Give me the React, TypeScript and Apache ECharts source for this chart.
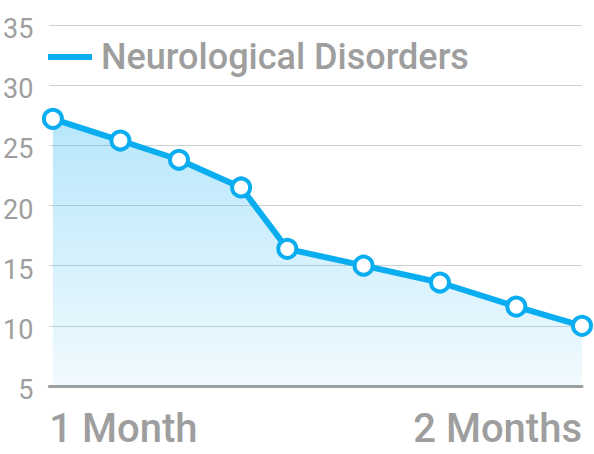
import React, { useEffect, useRef } from "react";
import * as echarts from "echarts";

const seriesName = "Neurological Disorders";
// x: days since start (1 Month = 30, 2 Months = 60)
const dayValues = [30.2, 34, 37.3, 40.8, 43.4, 47.7, 52, 56.3, 60];
const rateValues = [27.2, 25.4, 23.8, 21.5, 16.4, 15.0, 13.6, 11.6, 10.0];
const xTickLabels: Record<number, string> = { 30: "1 Month", 60: "2 Months" };
const xMin = 30;
const xMax = 60;
const yMin = 5;
const yMax = 35;
const yStep = 5;

const BLUE = "#0AADF0";
const GRAY = "#9e9e9e";

export default function App() {
  const ref = useRef<HTMLDivElement>(null);
  useEffect(() => {
    const chart = echarts.init(ref.current!, null, { renderer: "svg" });
    chart.setOption({
      animation: false,
      backgroundColor: "#ffffff",
      textStyle: { fontFamily: "Roboto" },
      grid: { left: 48, right: 12, top: 25, bottom: 68 },
      legend: {
        left: 48,
        top: 39,
        padding: 0,
        icon: "rect",
        itemWidth: 44,
        itemHeight: 6,
        itemStyle: { color: BLUE, borderWidth: 0 },
        textStyle: {
          fontSize: 36,
          fontWeight: 500,
          color: GRAY,
          fontFamily: "Roboto",
          padding: [0, 0, 0, 4],
        },
        data: [seriesName],
      },
      xAxis: {
        type: "value",
        min: xMin,
        max: xMax,
        interval: xMax - xMin,
        axisLine: { show: true, lineStyle: { color: GRAY, width: 3 } },
        axisTick: { show: false },
        splitLine: { show: false },
        axisLabel: {
          fontSize: 40,
          fontWeight: 500,
          color: GRAY,
          fontFamily: "Roboto",
          margin: 22,
          alignMinLabel: "left",
          alignMaxLabel: "right",
          formatter: (v: number) => xTickLabels[v] ?? "",
        },
      },
      yAxis: {
        type: "value",
        min: yMin,
        max: yMax,
        interval: yStep,
        axisLine: { show: false },
        axisTick: { show: false },
        splitLine: { show: true, lineStyle: { color: "#d0d0d0", width: 1 } },
        axisLabel: {
          fontSize: 27,
          color: GRAY,
          fontFamily: "Roboto",
          margin: 16,
          verticalAlign: "top",
          lineHeight: 8,
        },
      },
      series: [
        {
          type: "line",
          name: seriesName,
          data: dayValues.map((d, i) => [d, rateValues[i]]),
          symbol: "circle",
          symbolSize: 18,
          showAllSymbol: true,
          lineStyle: { color: BLUE, width: 6 },
          itemStyle: { color: "#ffffff", borderColor: BLUE, borderWidth: 4 },
          areaStyle: {
            color: new echarts.graphic.LinearGradient(0, 0, 0, 1, [
              { offset: 0, color: "rgba(10,173,240,0.42)" },
              { offset: 1, color: "rgba(10,173,240,0.08)" },
            ]),
          },
          z: 3,
        },
      ],
    });
    return () => chart.dispose();
  }, []);
  return (
    <div
      ref={ref}
      style={{ position: "fixed", left: 0, top: 0, width: 594, height: 454 }}
    />
  );
}
